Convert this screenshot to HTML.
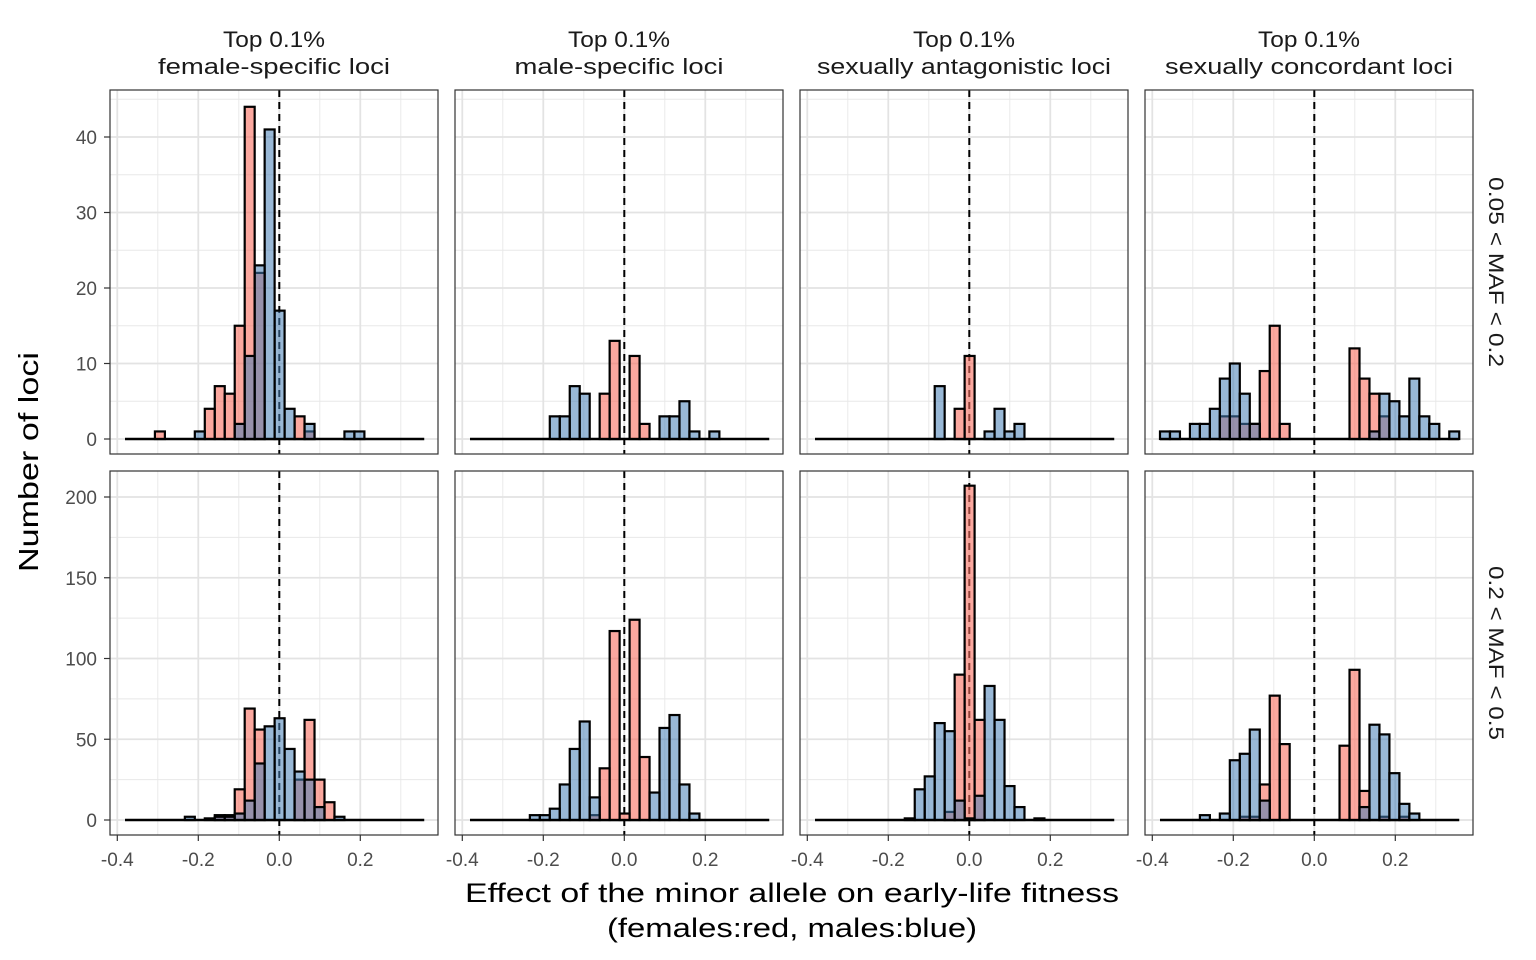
<!DOCTYPE html>
<html><head><meta charset="utf-8"><style>
body{margin:0;background:#fff;}
svg{display:block;font-family:"Liberation Sans",sans-serif;}
</style></head><body>
<svg id="chart" width="1536" height="960" viewBox="0 0 1536 960" xmlns="http://www.w3.org/2000/svg">
<text transform="translate(38,462) rotate(-90)" text-anchor="middle" font-size="28" fill="#000" textLength="220" lengthAdjust="spacingAndGlyphs">Number of loci</text>
<text x="792" y="902" text-anchor="middle" font-size="27" fill="#000" textLength="654" lengthAdjust="spacingAndGlyphs">Effect of the minor allele on early-life fitness</text>
<text x="792" y="937" text-anchor="middle" font-size="27" fill="#000" textLength="370" lengthAdjust="spacingAndGlyphs">(females:red, males:blue)</text>
</svg>
<script>
const colTitles1 = ["Top 0.1%","Top 0.1%","Top 0.1%","Top 0.1%"];
const colTitles2 = ["female-specific loci","male-specific loci","sexually antagonistic loci","sexually concordant loci"];
const rowTitles = ["0.05 < MAF < 0.2","0.2 < MAF < 0.5"];
const xTicks = [-0.4,-0.2,0.0,0.2];
const xTickLabels = ["-0.4","-0.2","0.0","0.2"];
const yTicksTop = [0,10,20,30,40];
const yTicksBot = [0,50,100,150,200];
const binStart = -0.381;
const binWidth = 0.02463;
const P1TR=[0,0,0,1,0,0,0,0,4,7,6,15,44,22,0,0,0,3,1,0,0,0,0,0,0,0,0,0,0,0];
const P1TB=[0,0,0,0,0,0,0,1,0,0,0,2,11,23,41,17,4,0,2,0,0,0,1,1,0,0,0,0,0,0];
const P1BR=[0,0,0,0,0,0,0,0,0,3,3,19,69,56,0,0,0,25,62,25,11,0,0,0,0,0,0,0,0,0];
const P1BB=[0,0,0,0,0,0,2,0,1,2,2,4,12,35,58,63,44,30,25,8,0,2,0,0,0,0,0,0,0,0];
const P2TR=[0,0,0,0,0,0,0,0,0,0,0,0,0,6,13,0,11,2,0,0,0,0,0,0,0,0,0,0,0,0];
const P2TB=[0,0,0,0,0,0,0,0,3,3,7,6,0,0,0,0,0,0,0,3,3,5,1,0,1,0,0,0,0,0];
const P2BR=[0,0,0,0,0,0,0,0,0,0,0,0,3,32,117,4,124,39,0,0,0,0,0,0,0,0,0,0,0,0];
const P2BB=[0,0,0,0,0,0,3,3,7,22,44,61,14,0,0,0,0,0,17,57,65,22,4,0,0,0,0,0,0,0];
const P3TR=[0,0,0,0,0,0,0,0,0,0,0,0,0,0,4,11,0,0,0,0,0,0,0,0,0,0,0,0,0,0];
const P3TB=[0,0,0,0,0,0,0,0,0,0,0,0,7,0,0,0,0,1,4,1,2,0,0,0,0,0,0,0,0,0];
const P3BR=[0,0,0,0,0,0,0,0,0,0,0,0,0,5,90,207,62,0,0,0,0,0,0,0,0,0,0,0,0,0];
const P3BB=[0,0,0,0,0,0,0,0,0,1,19,27,60,55,12,1,15,83,62,21,8,0,1,0,0,0,0,0,0,0];
const P4TR=[0,0,0,0,0,0,3,3,2,2,9,15,2,0,0,0,0,0,0,12,8,6,3,0,0,0,0,0,0,0];
const P4TB=[1,1,0,2,2,4,8,10,6,2,0,0,0,0,0,0,0,0,0,0,0,1,6,5,3,8,3,2,0,1];
const P4BR=[0,0,0,0,0,0,0,0,2,2,22,77,47,0,0,0,0,0,46,93,18,0,2,0,2,0,0,0,0,0];
const P4BB=[0,0,0,0,3,0,4,37,41,56,12,0,0,0,0,0,0,0,0,0,8,59,53,29,10,4,0,0,0,0];

const NS="http://www.w3.org/2000/svg";
const svg=document.getElementById('chart');
const panelLefts=[110,455,800,1145];
const panelW=328;
const title2Len=[232,209,294,288];
const rowTitleLen=[190,174];
const rows=[{top:90,h:364,zeroY:439,ppu:7.55,ticks:yTicksTop,minor:5,red:[P1TR,P2TR,P3TR,P4TR],blue:[P1TB,P2TB,P3TB,P4TB]},
            {top:471,h:364,zeroY:820,ppu:1.615,ticks:yTicksBot,minor:25,red:[P1BR,P2BR,P3BR,P4BR],blue:[P1BB,P2BB,P3BB,P4BB]}];
function mk(tag,attrs){const e=document.createElementNS(NS,tag);for(const k in attrs)e.setAttribute(k,attrs[k]);svg.appendChild(e);return e;}
function xs(c,v){return panelLefts[c]+169.3+v*405;}

colTitles1.forEach((t,c)=>{
  const cx=panelLefts[c]+panelW/2;
  const a=mk('text',{x:cx,y:47,'text-anchor':'middle','font-size':22,fill:'#1a1a1a',textLength:102,lengthAdjust:'spacingAndGlyphs'});a.textContent=t;
  
  
  const b=mk('text',{x:cx,y:74,'text-anchor':'middle','font-size':22,fill:'#1a1a1a',textLength:title2Len[c],lengthAdjust:'spacingAndGlyphs'});b.textContent=colTitles2[c];
  
  
});

rows.forEach((r,ri)=>{
  const ys=v=>r.zeroY-v*r.ppu;
  const rt=mk('text',{transform:`translate(1489,${r.top+r.h/2}) rotate(90)`,'text-anchor':'middle','font-size':21,fill:'#1a1a1a',textLength:rowTitleLen[ri],lengthAdjust:'spacingAndGlyphs'});
  rt.textContent=rowTitles[ri];
  
  
  r.ticks.forEach(t=>{
    const l=mk('text',{x:97,y:ys(t)+7,'text-anchor':'end','font-size':19,fill:'#4d4d4d'});l.textContent=t;
    
    
    const tk=mk('line',{x1:104,x2:110,y1:ys(t),y2:ys(t),stroke:'#333','stroke-width':1.2});
    
    
  });
  for(let c=0;c<4;c++){
    const L=panelLefts[c];
    const clipId='clip'+ri+c;
    const cp=mk('clipPath',{id:clipId});
    const cr=document.createElementNS(NS,'rect');cr.setAttribute('x',L);cr.setAttribute('y',r.top);cr.setAttribute('width',panelW);cr.setAttribute('height',r.h);cp.appendChild(cr);
    const g=mk('g',{'clip-path':`url(#${clipId})`});
    
    
    const add=(tag,attrs)=>{const e=document.createElementNS(NS,tag);for(const k in attrs)e.setAttribute(k,attrs[k]);g.appendChild(e);return e;};
    for(let v=-0.3;v<0.45;v+=0.2){add('line',{x1:xs(c,v),x2:xs(c,v),y1:r.top,y2:r.top+r.h,stroke:'#e8e8e8','stroke-width':0.9});}
    for(let t=r.minor;t<r.ticks[r.ticks.length-1]+r.minor*2;t+=r.minor*2){add('line',{x1:L,x2:L+panelW,y1:ys(t),y2:ys(t),stroke:'#e8e8e8','stroke-width':0.9});}
    add('line',{x1:L,x2:L+panelW,y1:ys(-r.minor),y2:ys(-r.minor),stroke:'#e8e8e8','stroke-width':0.9});
    xTicks.forEach(v=>add('line',{x1:xs(c,v),x2:xs(c,v),y1:r.top,y2:r.top+r.h,stroke:'#e3e3e3','stroke-width':1.8}));
    r.ticks.forEach(t=>add('line',{x1:L,x2:L+panelW,y1:ys(t),y2:ys(t),stroke:'#e3e3e3','stroke-width':1.8}));
    const vl=add('line',{x1:xs(c,0),x2:xs(c,0),y1:r.top,y2:r.top+r.h,stroke:'#000','stroke-width':2,'stroke-dasharray':'7,5'});
    
    
    const bl=add('line',{x1:xs(c,binStart),x2:xs(c,binStart+30*binWidth),y1:r.zeroY,y2:r.zeroY,stroke:'#000','stroke-width':2.5});
    
    
    [[r.red[c],'rgba(248,110,95,0.6)','female-bar'],[r.blue[c],'rgba(70,125,180,0.55)','male-bar']].forEach(([arr,fill,nm])=>{
      arr.forEach((n,i)=>{
        if(!n)return;
        const x0=xs(c,binStart+i*binWidth),x1=xs(c,binStart+(i+1)*binWidth);
        const b=add('rect',{x:x0,y:ys(n),width:x1-x0,height:n*r.ppu,fill:fill,stroke:'#000','stroke-width':2.2});
        
        
      });
    });
    const bd=mk('rect',{x:L,y:r.top,width:panelW,height:r.h,fill:'none',stroke:'#333','stroke-width':1.2});
    
    
    if(ri===1){
      xTicks.forEach((v,k)=>{
        const tk=mk('line',{x1:xs(c,v),x2:xs(c,v),y1:835,y2:841,stroke:'#333','stroke-width':1.2});
        
        
        const l=mk('text',{x:xs(c,v),y:866,'text-anchor':'middle','font-size':19,fill:'#4d4d4d'});l.textContent=xTickLabels[k];
        
        
      });
    }
  }
});
</script>
</body></html>
